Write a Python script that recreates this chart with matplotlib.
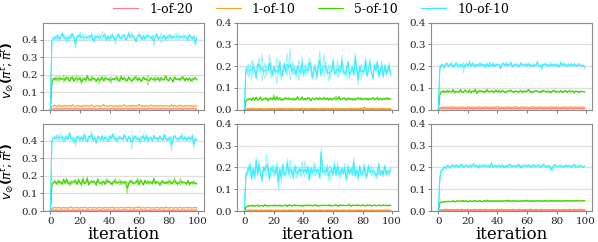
import numpy as np
import matplotlib
matplotlib.use("Agg")
import matplotlib.pyplot as plt

# ---------------- data (values in thousandths) ----------------
series_names = ["1-of-20", "1-of-10", "5-of-10", "10-of-10"]
x_ticks = [0, 20, 40, 60, 80, 100]
y_ticks = [0.0, 0.1, 0.2, 0.3, 0.4]

# panel (0,0)
c00a = [0,380,405,420,398,432,415,402,440,418,396,425,410,388,437,421,405,350,412,428,401,419,436,407,392,415,428,411,440,403,384,418,425,397,412,446,420,406,391,423,414,402,436,418,372,409,427,415,400,432,421,398,410,445,417,403,426,412,390,419,437,408,396,424,413,401,430,418,405,427,360,411,422,399,415,438,407,420,393,412,429,417,402,425,410,396,421,434,408,415,399,426,412,403,431,418,405,420,392,414]
c00b = [0,395,412,398,428,405,390,417,432,409,421,380,414,426,403,437,415,398,422,410,445,407,393,419,431,412,400,424,409,385,427,416,402,433,411,396,420,438,405,417,392,428,410,399,423,414,437,401,418,406,429,395,412,424,408,440,416,402,385,421,413,428,404,419,395,433,410,422,407,398,425,414,439,403,417,380,412,426,408,421,396,430,414,402,419,437,409,395,423,411,428,404,416,390,425,413,400,420,365,408]
g00a = [0,150,172,185,160,178,195,168,182,155,176,190,171,163,188,174,158,181,197,169,177,145,183,172,160,189,176,165,194,171,180,156,174,187,168,179,162,191,175,170,184,150,177,169,186,173,161,182,195,167,178,174,159,188,171,183,166,176,192,170,181,157,175,186,168,179,140,172,184,176,163,190,171,178,160,185,174,169,193,177,165,182,171,158,187,175,168,180,163,191,174,170,185,166,178,160,183,172,176,169]
g00b = [0,160,181,167,190,173,158,185,170,196,164,178,187,161,175,192,168,180,155,174,189,171,163,184,177,198,166,172,159,186,175,168,183,147,177,191,170,164,182,174,160,188,173,179,166,193,171,158,180,175,187,162,176,184,169,150,178,190,172,165,183,174,161,186,177,170,195,163,179,172,185,157,174,188,168,181,166,176,192,170,164,183,175,159,187,171,178,166,182,174,190,162,177,169,184,173,158,179,186,172]
o00 = [0,18,22,25,19,21,27,17,23,20,26,18,22,24,19,28,21,17,23,25,20,22,18,26,21,24,19,23,27,20,18,22,25,21,19,24,29,20,22,18,23,26,21,19,24,22,17,25,20,23,28,21,19,22,24,18,26,20,23,21,31,22,19,24,20,25,18,22,27,21,23,19,24,20,22,26,18,21,25,23,19,22,28,20,24,21,18,23,26,20,22,19,25,21,24,20,23,18,22,21]
r00 = [0,4,6,5,7,4,5,6,3,5,7,6,4,5,6,5,4,7,5,6,4,5,6,5,3,6,5,7,4,5,6,4,5,6,5,7,4,6,5,5,4,6,7,5,4,5,6,5,4,6,5,7,5,4,6,5,5,4,6,7,5,4,5,6,5,4,6,5,7,4,5,6,5,4,6,5,5,7,4,6,5,4,6,5,5,6,4,7,5,5,4,6,5,6,4,5,7,5,4,6]

# panel (0,1)
c01a = [0,195,160,210,175,140,225,185,150,200,240,170,130,190,215,160,180,255,145,175,205,165,120,195,230,180,150,210,170,260,190,140,175,220,160,185,205,135,170,245,180,155,200,165,190,225,150,175,210,140,185,270,165,195,150,220,180,130,200,175,235,160,190,145,205,170,250,180,155,195,215,140,175,200,165,225,185,115,190,210,160,175,240,150,185,200,170,140,215,180,230,160,195,175,145,210,185,165,220,155]
c01b = [0,170,205,150,190,230,165,180,140,215,175,195,255,160,145,200,185,170,225,150,190,175,240,160,200,135,185,215,170,155,195,280,175,160,205,145,190,230,170,185,150,210,165,195,240,175,140,200,180,160,220,185,150,195,255,170,165,205,140,185,215,175,160,230,150,190,200,165,180,145,225,185,170,195,155,260,180,165,205,140,190,175,215,160,185,235,170,150,195,180,210,145,175,225,165,190,155,200,180,170]
g01a = [0,35,45,52,48,40,58,46,53,42,50,61,44,49,55,47,38,52,57,45,50,43,65,48,54,41,51,46,59,49,44,53,47,56,42,50,62,45,48,55,43,51,47,58,46,40,53,49,45,57,50,44,52,48,60,46,51,43,55,49,47,54,42,50,63,48,45,52,57,44,50,47,55,41,49,53,46,58,50,44,51,48,56,43,52,47,49,55,45,51,60,46,50,44,53,48,57,45,52,49]
g01b = [0,40,50,44,55,47,52,43,60,49,45,54,41,51,48,57,46,53,44,50,70,47,52,45,56,49,43,54,48,51,58,45,50,42,53,47,55,49,44,61,48,52,46,50,57,43,54,49,47,53,45,59,50,44,52,48,56,46,51,43,55,49,65,47,52,45,50,54,48,44,57,51,46,53,49,42,55,48,50,58,45,52,47,54,44,51,49,56,46,53,48,45,55,50,47,52,44,57,49,51]
o01 = [0,4,5,6,5,7,5,6,4,6,5,7,6,5,6,4,5,7,6,5,6,5,4,6,7,5,6,5,6,4,5,7,6,5,6,5,4,6,5,7,6,5,6,4,5,6,7,5,6,5,4,6,5,7,6,5,6,5,4,6,5,8,6,5,6,5,7,5,6,4,5,6,7,5,6,5,4,6,5,7,6,12,6,5,6,5,7,5,6,4,5,6,5,7,6,5,6,5,4,6]
r01 = [0,2,2,3,2,2,1,2,3,2,2,2,1,3,2,2,2,3,2,1,2,2,3,2,2,1,2,2,3,2,2,2,1,2,3,2,2,2,1,2,3,2,2,2,2,1,3,2,2,2,3,2,1,2,2,2,3,2,2,1,2,2,3,2,2,2,1,2,3,2,2,2,2,1,3,2,2,2,3,2,1,2,2,2,3,2,2,1,2,2,3,2,2,2,1,2,3,2,2,2]

# panel (0,2)
c02a = [0,185,200,210,195,208,215,198,205,220,192,207,213,200,188,211,204,218,196,209,202,225,199,206,214,193,208,201,217,197,210,205,190,212,203,220,198,207,195,214,204,209,185,201,216,206,198,211,203,222,196,208,200,213,194,207,218,202,209,197,205,215,192,206,211,199,204,224,201,196,210,205,213,198,207,202,219,195,208,203,212,200,194,209,206,216,199,204,211,197,208,202,214,196,205,210,200,207,198,203]
c02b = [0,195,210,202,190,215,205,198,212,200,207,194,218,203,209,199,211,170,205,213,198,208,201,216,195,206,211,200,204,219,197,209,203,212,194,207,200,215,202,198,210,205,196,213,207,201,221,199,206,210,197,204,214,200,208,195,211,203,206,217,198,205,210,201,196,209,204,212,199,207,180,211,203,215,200,206,198,210,204,213,197,208,202,223,199,205,211,196,207,203,214,200,205,209,198,212,204,201,207,185]
g02a = [0,65,80,88,75,84,92,78,86,81,90,74,87,83,79,95,82,76,89,85,80,93,77,86,82,88,73,84,91,80,87,83,78,96,85,81,89,76,86,92,80,84,78,90,85,82,75,88,83,94,79,86,81,87,77,85,90,82,84,79,88,93,80,85,76,87,83,89,81,78,91,84,86,80,82,88,75,85,90,83,79,86,82,87,77,84,89,81,85,80,83,88,76,86,82,84,79,87,81,85]
g02b = [0,75,85,79,90,82,77,88,84,80,93,86,79,85,81,89,77,84,92,83,80,87,78,86,82,97,81,85,79,88,83,76,90,84,80,86,82,89,78,85,83,91,80,84,87,79,86,82,90,81,85,78,88,84,80,87,83,76,89,85,81,92,84,79,86,82,88,80,85,83,77,90,84,81,87,79,85,82,89,80,86,83,78,88,84,81,86,79,85,91,82,84,80,87,83,78,86,82,85,80]
o02 = [0,9,11,12,10,13,11,12,10,14,11,12,13,10,12,11,13,12,10,11,14,12,11,13,10,12,11,12,13,11,10,12,14,11,12,10,13,11,12,11,15,12,10,13,11,12,12,11,13,10,12,11,14,12,11,10,13,12,11,12,13,10,11,12,14,11,12,10,13,12,11,12,11,13,10,12,14,11,12,11,13,12,10,11,12,13,11,12,10,14,12,11,13,11,12,10,12,13,11,12]
r02 = [0,4,5,5,6,4,5,6,5,4,5,6,5,5,4,6,5,5,6,4,5,5,6,5,4,5,6,5,5,4,6,5,5,6,5,4,5,6,5,5,4,6,5,5,6,4,5,5,6,5,4,5,6,5,5,4,6,5,5,6,5,4,5,6,5,5,4,6,5,5,6,4,5,5,6,5,4,5,6,5,5,4,6,5,5,6,5,4,5,6,5,5,4,6,5,5,6,4,5,5]

# panel (1,0)
c10a = [0,390,415,428,405,440,412,398,425,418,395,432,410,450,402,420,385,415,430,408,398,426,412,440,405,390,418,435,410,400,424,380,414,428,406,419,397,433,411,402,426,415,445,400,418,392,430,409,421,404,437,413,398,425,410,350,418,432,406,420,395,428,412,441,403,417,389,425,414,400,432,408,420,396,427,413,405,438,410,398,422,415,340,418,429,407,420,396,431,412,404,425,416,400,423,409,436,398,415,405]
c10b = [0,400,420,405,432,398,415,445,410,392,427,413,405,438,419,400,424,368,412,430,407,421,395,436,414,402,428,410,455,404,418,395,429,412,400,435,416,405,421,392,430,408,419,440,403,415,397,426,412,405,433,418,398,422,410,437,401,416,428,405,419,380,425,412,400,438,414,406,423,397,430,411,419,404,427,413,400,435,409,418,395,426,412,404,432,416,400,421,410,440,405,418,396,428,413,402,425,360,410,404]
g10a = [0,140,165,172,150,180,158,168,145,175,162,190,155,170,148,165,178,160,152,185,163,140,171,158,166,195,150,162,175,157,168,145,180,160,153,172,165,148,188,158,170,162,143,176,155,167,160,182,150,165,173,157,100,168,160,177,148,165,158,190,153,170,162,145,178,160,155,172,164,150,185,158,167,160,142,175,163,156,170,152,180,161,148,168,158,173,145,165,187,155,168,160,150,176,158,165,148,172,160,155]
g10b = [0,150,158,170,162,148,177,155,165,185,152,168,160,143,175,162,155,180,150,170,158,165,192,153,160,172,148,168,157,176,162,150,183,158,166,145,172,160,155,178,163,150,168,160,188,155,165,147,175,160,153,170,162,140,178,158,167,153,172,160,148,181,163,155,169,158,175,150,165,160,185,152,170,157,163,145,176,160,155,168,150,173,162,158,190,153,166,160,148,172,158,164,155,170,145,162,168,157,150,160]
o10 = [0,15,18,20,17,19,22,16,18,21,17,19,16,20,23,18,17,19,21,16,18,20,17,22,19,16,18,21,17,19,20,16,18,22,17,19,16,21,18,20,17,19,23,16,18,20,17,19,21,18,16,20,18,22,17,19,18,16,21,19,24,17,18,20,16,19,22,18,17,20,16,19,21,18,17,20,18,16,22,19,17,18,21,16,19,20,17,18,22,16,19,18,20,17,21,18,16,19,20,18]
r10 = [0,5,4,6,5,5,4,6,5,7,4,5,6,5,4,6,5,5,7,4,5,6,5,4,6,5,5,4,6,7,5,4,5,6,5,5,4,6,5,7,5,4,6,5,5,4,6,5,6,4,5,7,5,4,6,5,5,6,4,5,6,5,7,4,5,6,5,5,4,6,5,5,6,4,7,5,5,4,6,5,6,5,4,5,6,5,7,4,5,6,5,5,4,6,5,6,4,5,5,6]

# panel (1,1)
c11a = [0,140,200,175,225,160,190,145,215,180,235,165,150,200,185,260,170,140,195,210,155,180,225,165,190,130,205,175,160,240,185,150,195,170,215,145,180,200,165,230,175,155,190,210,140,185,170,225,160,195,180,150,290,175,200,160,215,185,145,195,170,230,160,180,205,150,190,175,220,140,185,165,200,175,245,155,190,170,210,160,180,195,145,175,215,185,160,200,170,150,190,225,165,180,155,205,175,190,160,200]
c11b = [0,175,160,215,185,140,200,170,245,160,190,175,130,205,180,160,225,150,195,175,210,165,185,100,195,170,220,155,180,200,165,235,175,145,190,210,160,180,200,155,175,230,165,190,145,205,180,160,215,170,195,150,250,180,165,200,175,140,210,185,160,195,170,225,155,185,200,165,180,145,215,175,190,160,205,170,185,135,200,175,160,220,180,150,195,170,210,160,185,175,145,200,165,190,180,210,160,175,195,170]
g11a = [0,15,20,24,22,27,19,25,23,28,21,26,24,20,29,23,25,22,27,24,30,21,26,23,28,25,22,27,24,20,29,26,23,25,31,22,27,24,26,21,28,25,23,30,24,27,22,26,25,29,23,21,27,25,28,24,26,22,30,25,23,27,24,26,21,29,25,28,23,26,24,33,22,27,25,24,28,23,26,25,30,24,22,27,26,29,23,25,28,24,26,22,27,25,29,24,26,23,28,25]
g11b = [0,18,23,21,26,24,28,22,25,27,20,24,26,23,29,25,21,27,24,26,22,28,25,23,27,21,26,24,30,23,25,28,22,26,24,27,25,23,29,24,21,26,28,25,23,27,24,26,30,22,25,27,24,28,23,26,25,29,24,22,27,26,31,24,25,28,23,26,27,24,29,25,22,27,26,28,24,30,25,23,27,26,24,29,25,27,23,26,28,25,24,30,26,23,27,25,28,24,26,25]
o11 = [0,3,4,4,5,3,4,4,5,4,3,5,4,4,3,5,4,4,5,3,4,4,5,4,3,4,5,4,4,3,5,4,4,5,3,4,4,5,4,3,4,5,4,4,3,5,4,4,5,3,4,6,5,4,3,4,5,4,4,3,5,4,4,5,3,4,4,5,4,3,4,5,4,4,3,5,4,4,5,3,4,4,5,4,3,4,5,4,4,3,5,4,4,5,3,4,4,5,4,4]
r11 = [0,1,1,2,1,1,1,2,1,1,2,1,1,1,2,1,1,2,1,1,1,2,1,1,2,1,1,1,2,1,1,2,1,1,1,2,1,1,2,1,1,1,2,1,1,2,1,1,1,2,1,1,2,1,1,1,2,1,1,2,1,1,1,2,1,1,2,1,1,1,2,1,1,2,1,1,1,2,1,1,2,1,1,1,2,1,1,2,1,1,1,2,1,1,2,1,1,1,2,1]

# panel (1,2)
c12a = [0,140,180,195,200,192,205,210,198,212,203,207,215,200,209,204,218,196,208,211,202,214,199,206,220,203,209,197,212,205,201,216,208,199,210,204,222,198,207,213,200,209,203,215,197,206,211,201,208,214,199,205,210,202,217,204,196,209,212,203,207,215,200,206,211,198,208,204,213,201,207,219,203,199,210,206,185,209,202,213,205,200,208,214,203,197,210,206,212,201,208,204,216,199,206,202,211,205,200,207]
c12b = [0,160,190,185,205,198,210,201,195,207,213,199,204,210,197,216,203,208,200,212,205,198,209,215,202,206,211,197,208,203,214,200,207,212,205,198,216,203,209,201,207,213,199,205,210,196,208,204,218,202,206,211,200,207,203,214,198,209,205,212,201,206,210,199,208,215,203,205,211,197,207,202,213,206,200,209,204,180,208,214,202,206,211,199,207,203,212,200,205,209,198,207,213,203,206,200,210,204,197,205]
g12a = [0,35,40,42,38,44,46,41,45,43,47,40,45,48,43,46,42,49,44,46,41,47,45,43,50,44,46,42,48,45,43,47,44,51,45,42,46,48,44,47,43,49,45,46,42,48,50,44,46,43,47,45,49,44,46,42,48,45,47,44,51,46,43,48,45,47,44,49,46,42,48,45,50,44,47,46,43,49,45,47,44,48,46,43,50,45,47,44,49,46,48,44,47,45,51,46,44,48,46,47]
g12b = [0,38,42,40,45,43,41,46,44,42,48,45,43,47,44,46,50,43,45,47,42,48,46,44,45,49,43,47,45,46,42,48,44,47,45,50,43,46,48,44,47,45,43,49,46,44,47,45,52,44,46,48,43,47,45,49,46,44,48,45,47,43,50,46,45,48,44,47,46,49,45,43,48,46,47,44,50,46,45,48,47,44,49,46,45,48,46,50,45,47,44,49,46,48,45,47,46,49,47,48]
o12 = [0,5,6,7,6,8,7,6,7,8,6,7,7,8,6,7,9,6,7,7,8,6,7,6,8,7,7,6,8,7,6,7,8,7,6,7,8,6,7,7,9,6,7,8,7,6,7,8,6,7,7,8,7,6,7,8,6,7,7,8,6,7,9,7,6,7,8,7,6,7,8,6,7,7,8,6,7,7,8,6,7,8,7,6,7,8,6,7,7,9,6,7,8,7,6,7,8,7,6,7]
r12 = [0,2,3,3,4,3,3,2,3,4,3,3,3,4,2,3,3,4,3,3,2,3,4,3,3,3,4,2,3,3,4,3,3,2,3,4,3,3,3,4,2,3,3,4,3,3,2,3,4,3,3,3,4,2,3,3,4,3,3,2,3,4,3,3,3,4,2,3,3,4,3,3,2,3,4,3,3,3,4,2,3,3,4,3,3,2,3,4,3,3,3,4,2,3,3,4,3,3,2,3]

panels = [
    [([r00], [o00], [g00a, g00b], [c00a, c00b]),
     ([r01], [o01], [g01a, g01b], [c01a, c01b]),
     ([r02], [o02], [g02a, g02b], [c02a, c02b])],
    [([r10], [o10], [g10a, g10b], [c10a, c10b]),
     ([r11], [o11], [g11a, g11b], [c11a, c11b]),
     ([r12], [o12], [g12a, g12b], [c12a, c12b])],
]

# ---------------- style ----------------
colors = ["#ff7b7b", "#ffa428", "#3fd400", "#38eeff"]
plt.rcParams["font.family"] = ["DejaVu Serif"]
plt.rcParams["mathtext.fontset"] = "dejavusans"

fig, axes = plt.subplots(2, 3, figsize=(5.98, 2.42), dpi=100)
fig.subplots_adjust(left=0.072, right=0.990, top=0.907, bottom=0.128,
                    wspace=0.205, hspace=0.16)

handles = []
for i in range(2):
    for j in range(3):
        ax = axes[i, j]
        for color, runs in zip(colors, panels[i][j]):
            arrs = [np.asarray(r, dtype=float) / 1000.0 for r in runs]
            for a in arrs:
                ax.plot(np.arange(len(a)), a, color=color, lw=0.6, alpha=0.6)
            n = min(len(a) for a in arrs)
            m = np.mean([a[:n] for a in arrs], axis=0)
            ln, = ax.plot(np.arange(n), m, color=color, lw=0.8)
            if i == 0 and j == 0:
                handles.append(ln)
        ax.set_ylim(0, 0.497 if j == 0 else 0.4)
        ax.set_xticks(x_ticks)
        ax.set_yticks(y_ticks)
        ax.yaxis.grid(True, color="#dedede", lw=0.9)
        ax.set_axisbelow(True)
        for s in ax.spines.values():
            s.set_color("#8c8c8c")
            s.set_linewidth(0.8)
        ax.tick_params(axis="both", labelsize=7.5, length=2.5, width=0.6,
                       color="#666666", pad=1.5, labelcolor="#222222")
        if i == 0:
            ax.tick_params(axis="x", labelbottom=False)
        else:
            ax.set_xlabel("iteration", fontsize=12, labelpad=0)
        if j == 0:
            ax.set_ylabel(r"$\boldsymbol{v_{\oslash}(\pi^t;\bar{\pi}^t)}$",
                          fontsize=9)
            ax.yaxis.set_label_coords(-0.165, 0.45)

fig.legend(handles, series_names, loc="center", bbox_to_anchor=(0.52, 0.962),
           ncol=4, frameon=False, fontsize=9, handlelength=2.0,
           handletextpad=0.9, columnspacing=1.8, borderaxespad=0)

fig.savefig("out.png", dpi=100)
